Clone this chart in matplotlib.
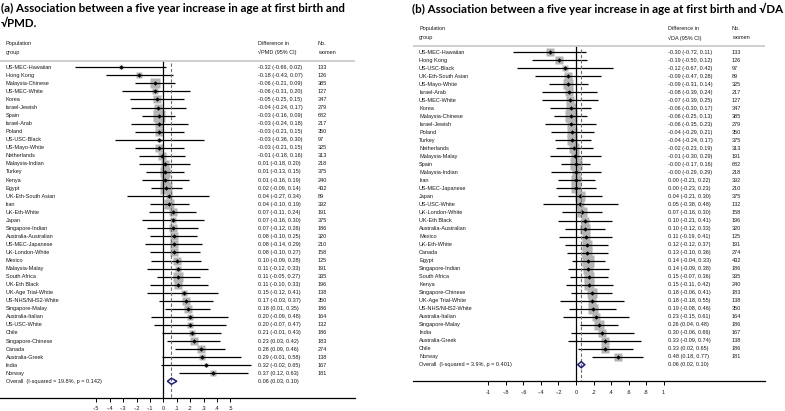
import matplotlib
matplotlib.use('Agg')
import matplotlib.pyplot as plt
from matplotlib.patches import Polygon
import numpy as np

# ---------------- data ----------------
groups_a = ["US-MEC-Hawaiian", "Hong Kong", "Malaysia-Chinese", "US-MEC-White", "Korea",
            "Israel-Jewish", "Spain", "Israel-Arab", "Poland", "US-USC-Black", "US-Mayo-White",
            "Netherlands", "Malaysia-Indian", "Turkey", "Kenya", "Egypt", "UK-Eth-South Asian",
            "Iran", "UK-Eth-White", "Japan", "Singapore-Indian", "Australia-Australian",
            "US-MEC-Japanese", "UK-London-White", "Mexico", "Malaysia-Malay", "South Africa",
            "UK-Eth Black", "UK-Age Trial-White", "US-NHS/NHS2-White", "Singapore-Malay",
            "Australia-Italian", "US-USC-White", "Chile", "Singapore-Chinese", "Canada",
            "Australia-Greek", "India", "Norway"]
est_a = [-0.32, -0.18, -0.06, -0.06, -0.05, -0.04, -0.03, -0.03, -0.03, -0.03, -0.03, -0.01,
         0.01, 0.01, 0.01, 0.02, 0.04, 0.04, 0.07, 0.07, 0.07, 0.08, 0.08, 0.08, 0.10, 0.11,
         0.11, 0.11, 0.15, 0.17, 0.18, 0.20, 0.20, 0.21, 0.23, 0.28, 0.29, 0.32, 0.37]
lo_a = [-0.66, -0.43, -0.21, -0.31, -0.25, -0.24, -0.16, -0.24, -0.21, -0.36, -0.21, -0.18,
        -0.18, -0.13, -0.16, -0.09, -0.27, -0.10, -0.11, -0.16, -0.12, -0.10, -0.14, -0.10,
        -0.09, -0.12, -0.05, -0.10, -0.12, -0.03, 0.01, -0.09, -0.07, -0.01, 0.03, 0.09,
        -0.01, -0.02, 0.12]
hi_a = [0.02, 0.07, 0.09, 0.20, 0.15, 0.17, 0.09, 0.18, 0.15, 0.30, 0.15, 0.16, 0.20, 0.15,
        0.19, 0.14, 0.34, 0.19, 0.24, 0.30, 0.26, 0.25, 0.29, 0.27, 0.28, 0.33, 0.27, 0.33,
        0.41, 0.37, 0.35, 0.48, 0.47, 0.43, 0.42, 0.46, 0.58, 0.65, 0.63]
n_a = [133, 126, 385, 127, 347, 279, 682, 217, 350, 97, 325, 313, 218, 375, 240, 432, 89, 392,
       191, 375, 186, 320, 210, 158, 125, 191, 335, 196, 138, 350, 186, 164, 132, 186, 183, 274,
       138, 167, 181]
overall_a = (0.06, 0.03, 0.10)
overall_label_a = "Overall  (I-squared = 19.8%, p = 0.142)"
ticks_a = [-0.5, -0.4, -0.3, -0.2, -0.1, 0.0, 0.1, 0.2, 0.3, 0.4, 0.5]
ticklabels_a = ["-.5", "-.4", "-.3", "-.2", "-.1", "0", ".1", ".2", ".3", ".4", ".5"]
title_a = ["(a) Association between a five year increase in age at first birth and", "\u221aPMD."]
header_a = "\u221aPMD (95% CI)"

groups_b = ["US-MEC-Hawaiian", "Hong Kong", "US-USC-Black", "UK-Eth-South Asian", "US-Mayo-White",
            "Israel-Arab", "US-MEC-White", "Korea", "Malaysia-Chinese", "Israel-Jewish", "Poland",
            "Turkey", "Netherlands", "Malaysia-Malay", "Spain", "Malaysia-Indian", "Iran",
            "US-MEC-Japanese", "Japan", "US-USC-White", "UK-London-White", "UK-Eth Black",
            "Australia-Australian", "Mexico", "UK-Eth-White", "Canada", "Egypt",
            "Singapore-Indian", "South Africa", "Kenya", "Singapore-Chinese",
            "UK-Age Trial-White", "US-NHS/NHS2-White", "Australia-Italian", "Singapore-Malay",
            "India", "Australia-Greek", "Chile", "Norway"]
est_b = [-0.30, -0.19, -0.12, -0.09, -0.09, -0.08, -0.07, -0.06, -0.06, -0.06, -0.04, -0.04,
         -0.02, -0.01, -0.0, -0.0, 0.00, 0.00, 0.04, 0.05, 0.07, 0.10, 0.10, 0.11, 0.12, 0.13,
         0.14, 0.14, 0.15, 0.15, 0.18, 0.18, 0.19, 0.23, 0.26, 0.30, 0.33, 0.33, 0.48]
lo_b = [-0.72, -0.50, -0.67, -0.47, -0.31, -0.39, -0.39, -0.30, -0.25, -0.35, -0.29, -0.24,
        -0.23, -0.30, -0.17, -0.29, -0.21, -0.23, -0.21, -0.38, -0.16, -0.21, -0.12, -0.19,
        -0.12, -0.10, -0.04, -0.09, -0.07, -0.11, -0.06, -0.18, -0.08, -0.15, 0.04, -0.06,
        -0.09, 0.02, 0.18]
hi_b = [0.11, 0.12, 0.42, 0.28, 0.14, 0.24, 0.25, 0.17, 0.13, 0.23, 0.21, 0.17, 0.19, 0.29,
        0.16, 0.29, 0.22, 0.23, 0.30, 0.48, 0.30, 0.41, 0.33, 0.41, 0.37, 0.36, 0.33, 0.38,
        0.36, 0.42, 0.41, 0.55, 0.46, 0.61, 0.48, 0.66, 0.74, 0.65, 0.77]
n_b = [133, 126, 97, 89, 325, 217, 127, 347, 385, 279, 350, 375, 313, 191, 682, 218, 392, 210,
       375, 132, 158, 196, 320, 125, 191, 274, 432, 186, 335, 240, 183, 138, 350, 164, 186, 167,
       138, 186, 181]
overall_b = (0.06, 0.02, 0.10)
overall_label_b = "Overall  (I-squared = 3.9%, p = 0.401)"
ticks_b = [-1.0, -0.8, -0.6, -0.4, -0.2, 0.0, 0.2, 0.4, 0.6, 0.8, 1.0]
ticklabels_b = ["-1", "-.8", "-.6", "-.4", "-.2", "0", ".2", ".4", ".6", ".8", "1"]
title_b = "(b) Association between a five year increase in age at first birth and \u221aDA"
header_b = "\u221aDA (95% CI)"

# ---------------- layout ----------------
W, H = 785, 411
fig = plt.figure(figsize=(W / 100, H / 100), dpi=100)
BODY = ['Liberation Sans', 'DejaVu Sans']
TITLE = ['Lato', 'DejaVu Sans']
FS = 4.0
TXT = '#1a1a1a'


def panel(cfg, groups, est, lo, hi, n, overall, olabel, ticks, ticklabels, header2, sq):
    L, R, Z, P = cfg['left'], cfg['right'], cfg['zero'], cfg['ppu']
    r0, st, B, T = cfg['row0'], cfg['step'], cfg['axis_y'], cfg['top']
    ax = fig.add_axes([L / W, 1 - B / H, (R - L) / W, (B - T) / H])
    ax.set_xlim((L - Z) / P, (R - Z) / P)
    ax.set_ylim((B - r0) / st, (T - r0) / st)
    ax.patch.set_alpha(0)
    for s in ['top', 'left', 'right']:
        ax.spines[s].set_visible(False)
    ax.spines['bottom'].set_linewidth(0.9)
    ax.set_yticks([])
    ax.set_xticks(ticks)
    ax.set_xticklabels(ticklabels, family=BODY, fontsize=FS, color=TXT)
    ax.tick_params(axis='x', direction='out', length=3, width=0.7, pad=3.3)

    def xd(px):
        return (px - Z) / P

    def yd(py):
        return (py - r0) / st

    ybot = (B - r0) / st
    hl = yd(cfg['line_y'])
    kw = dict(family=BODY, fontsize=FS, color=TXT, va='center', ha='left', clip_on=False)
    ax.text(xd(cfg['lab_x']), yd(cfg['pop_y']), "Population", **kw)
    ax.text(xd(cfg['lab_x']), yd(cfg['grp_y']), "group", **kw)
    ax.text(xd(cfg['ci_x']), yd(cfg['pop_y']), "Difference in", **kw)
    ax.text(xd(cfg['ci_x']), yd(cfg['grp_y']), header2, **kw)
    ax.text(xd(cfg['n_x']), yd(cfg['pop_y']), "No.", **kw)
    ax.text(xd(cfg['n_x']), yd(cfg['grp_y']), "women", **kw)
    ax.axhline(hl, color='#cfcfcf', lw=1.4, zorder=1)
    ax.plot([0, 0], [hl + 0.12, ybot], color='black', lw=0.9, zorder=5)
    ax.plot([overall[0]] * 2, [hl + 0.3, ybot], color='#b5514e', lw=0.8,
            dashes=(3, 1.8), zorder=5)
    est = np.array(est); lo = np.array(lo); hi = np.array(hi)
    se = (hi - lo) / 3.92
    w = 1.0 / se ** 2
    sides = sq[0] + sq[1] * np.sqrt(w)
    ys = np.arange(len(groups))
    for i in ys:
        ax.plot(est[i], i, marker='s', ms=sides[i] * 0.72, color='#b4b4b4', mec='none',
                zorder=2)
        ax.plot([lo[i], hi[i]], [i, i], color='black', lw=0.9, zorder=3, solid_capstyle='butt')
        ax.plot(est[i], i, marker='D', ms=1.9, color='black', mec='black', mew=0.3, zorder=4)
        ax.text(xd(cfg['lab_x']), i, groups[i], **kw)
        ax.text(xd(cfg['ci_x']), i, f"{est[i]:.2f} ({lo[i]:.2f}, {hi[i]:.2f})", **kw)
        ax.text(xd(cfg['n_x']), i, f"{n[i]}", **kw)
    yo = len(groups)
    e, l, h = overall
    dh = 0.38
    ax.add_patch(Polygon([(l, yo), (e, yo - dh), (h, yo), (e, yo + dh)], closed=True,
                         fill=False, edgecolor='#1c1c8a', lw=1.1, zorder=6))
    ax.text(xd(cfg['lab_x']), yo, olabel, **kw)
    ax.text(xd(cfg['ci_x']), yo, f"{e:.2f} ({l:.2f}, {h:.2f})", **kw)
    return ax


cfg_a = dict(left=0, right=355, zero=163.4, ppu=134.0, row0=67.3, step=8.05, axis_y=397.7,
             top=30, pop_y=43.5, grp_y=52.5, line_y=61.0, lab_x=6, ci_x=258, n_x=318)
cfg_b = dict(left=413, right=765, zero=576, ppu=87.6, row0=52.3, step=8.01, axis_y=381,
             top=18, pop_y=29.0, grp_y=38.0, line_y=46.5, lab_x=419, ci_x=668, n_x=732)

panel(cfg_a, groups_a, est_a, lo_a, hi_a, n_a, overall_a, overall_label_a, ticks_a,
      ticklabels_a, header_a, (0.5, 0.72))
panel(cfg_b, groups_b, est_b, lo_b, hi_b, n_b, overall_b, overall_label_b, ticks_b,
      ticklabels_b, header_b, (4.5, 0.64))

# titles: fit first line of (a) to its width, reuse the size for (b)
t_a = fig.text(1 / W, 1 - 8.5 / H, title_a[0], fontsize=7.6, fontweight='bold', family=TITLE,
               ha='left', va='center', color='black')
r = fig.canvas.get_renderer()
fs_t = 7.6 * 342 / t_a.get_window_extent(r).width
t_a.set_fontsize(fs_t)
fig.text(1 / W, 1 - 23.5 / H, title_a[1], fontsize=fs_t, fontweight='bold',
         family=TITLE, ha='left', va='center', color='black')
fig.text(783 / W, 1 - 8.5 / H, title_b, fontsize=fs_t, fontweight='bold', family=TITLE,
         ha='right', va='center', color='black')

fig.savefig('out.png', dpi=100)
